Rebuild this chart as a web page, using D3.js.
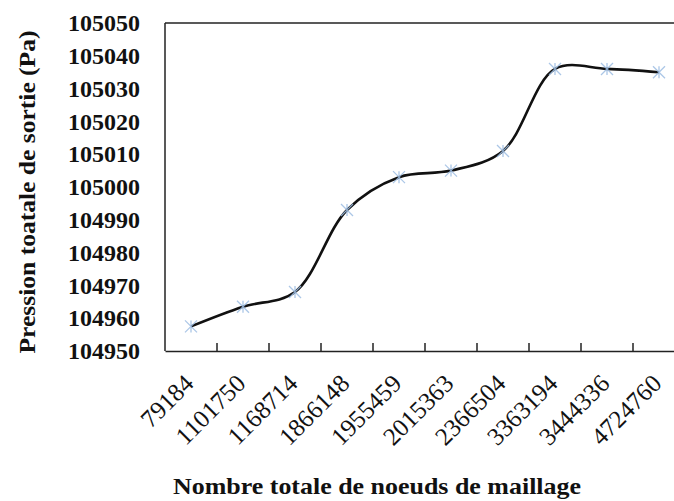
<!DOCTYPE html>
<html><head><meta charset="utf-8">
<script src="https://cdn.jsdelivr.net/npm/d3@7"></script>
<style>body{margin:0;background:#fff}svg{display:block}</style>
</head><body>
<svg id="c" width="674" height="501"></svg>
<script>
const categories = ["79184","1101750","1168714","1866148","1955459","2015363","2366504","3363194","3444336","4724760"];
const values = [104957.5, 104963.5, 104968, 104993, 105003, 105005, 105011, 105036, 105036, 105035];
const yTicks = [104950,104960,104970,104980,104990,105000,105010,105020,105030,105040,105050];
const xTitle = "Nombre totale de noeuds de maillage";
const yTitle = "Pression toatale de sortie (Pa)";

const svg = d3.select("#c");
const L = 165, T = 23, B = 351, band = 52;
const x = d3.scaleBand().domain(categories).range([L, L + band * categories.length]);
const y = d3.scaleLinear().domain([104950, 105050]).range([B, T]);
const font = "'Liberation Serif','Times New Roman',serif";

// frame
svg.append("line").attr("x1", L).attr("x2", L).attr("y1", T).attr("y2", B).attr("stroke", "#222").attr("stroke-width", 1.5);
svg.append("line").attr("x1", L).attr("x2", x.range()[1]).attr("y1", T).attr("y2", T).attr("stroke", "#222").attr("stroke-width", 1.5);

// x axis
const xa = svg.append("g").attr("transform", `translate(0,${B})`)
  .call(d3.axisBottom(x).tickSize(0).tickPadding(0).tickSizeOuter(0));
xa.select(".domain").attr("stroke", "#222").attr("stroke-width", 1.5);
xa.selectAll(".tick text")
  .attr("font-family", font).attr("font-size", 25).attr("fill", "#111")
  .attr("text-anchor", "end").attr("dy", 0).attr("y", 0)
  .attr("transform", "translate(4,34) rotate(-45)");
// boundary ticks (inward)
svg.append("g").selectAll("line").data(categories.slice(1)).join("line")
  .attr("x1", d => x(d)).attr("x2", d => x(d))
  .attr("y1", B).attr("y2", B - 8).attr("stroke", "#222").attr("stroke-width", 1.5);

// y axis labels
const ya = svg.append("g").attr("transform", `translate(${L},0)`)
  .call(d3.axisLeft(y).tickValues(yTicks).tickSize(0).tickPadding(25).tickFormat(d3.format("d")));
ya.select(".domain").remove();
ya.selectAll(".tick text").attr("font-family", font).attr("font-size", 24)
  .attr("font-weight", "bold").attr("fill", "#111");

// line
const line = d3.line().x((d, i) => x(categories[i]) + x.bandwidth() / 2).y(d => y(d))
  .curve(d3.curveCatmullRom.alpha(0.5));
svg.append("path").datum(values).attr("d", line).attr("fill", "none")
  .attr("stroke", "#111").attr("stroke-width", 2.6);

// markers (asterisk)
const s = 6;
const mk = svg.append("g").selectAll("g").data(values).join("g")
  .attr("transform", (d, i) => `translate(${x(categories[i]) + x.bandwidth() / 2},${y(d)})`)
  .attr("stroke", "#9dbde3").attr("stroke-width", 1.3).attr("opacity", 0.85);
mk.append("line").attr("x1", -s).attr("y1", -s).attr("x2", s).attr("y2", s);
mk.append("line").attr("x1", -s).attr("y1", s).attr("x2", s).attr("y2", -s);
mk.append("line").attr("x1", 0).attr("y1", -s).attr("x2", 0).attr("y2", s);

// titles
svg.append("text").attr("x", 377).attr("y", 494).attr("text-anchor", "middle")
  .attr("font-family", font).attr("font-weight", "bold").attr("font-size", 23).attr("fill", "#111")
  .attr("textLength", 408).attr("lengthAdjust", "spacingAndGlyphs").text(xTitle);
svg.append("text").attr("transform", "translate(35,192) rotate(-90)").attr("text-anchor", "middle")
  .attr("font-family", font).attr("font-weight", "bold").attr("font-size", 24).attr("fill", "#111")
  .attr("textLength", 323).attr("lengthAdjust", "spacingAndGlyphs").text(yTitle);
</script>
</body></html>
